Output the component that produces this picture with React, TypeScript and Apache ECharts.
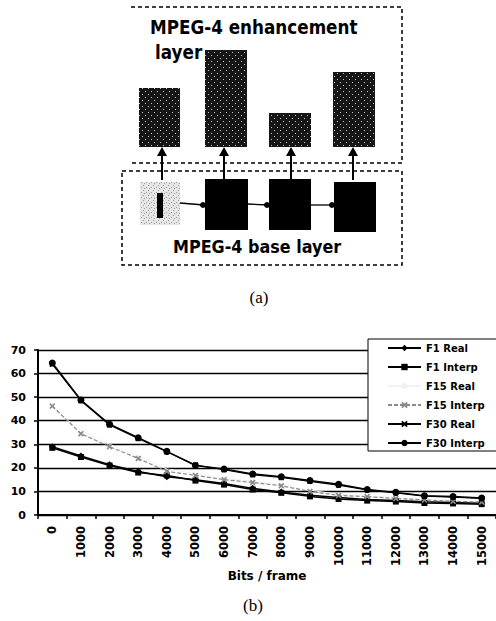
import React, { useEffect, useRef } from "react";
import * as echarts from "echarts";

const categories = ["0", "1000", "2000", "3000", "4000", "5000", "6000", "7000", "8000", "9000", "10000", "11000", "12000", "13000", "14000", "15000"];
const f1Real = [29, 25, 21.3, 18.5, 16.2, 15, 13.4, 11.3, 9.8, 8.4, 7.4, 6.6, 6.2, 5.6, 5.3, 5];
const f1Interp = [28.5, 24.6, 21, 18, 16.8, 14.6, 12.9, 10.8, 9.4, 7.9, 6.8, 6.1, 5.7, 5.1, 4.9, 4.6];
const f15Real = [45, 36, 30, 25, 19.5, 17.5, 15.5, 14.2, 12.8, 10.5, 8.8, 8, 7.3, 6.6, 6, 5.7];
const f15Interp = [46.2, 34.5, 29, 24, 18.5, 16.8, 15, 13.8, 12.4, 10, 8.3, 7.8, 7, 6.4, 5.8, 5.5];
const f30Real = [64, 48.5, 38.2, 32.5, 26.8, 21.2, 19.2, 17.1, 15.9, 14.3, 12.7, 10.6, 9.4, 8, 7.6, 7];
const f30Interp = [64.5, 48.8, 38.5, 32.8, 27, 21, 19.5, 17.4, 16.2, 14.6, 13, 10.8, 9.6, 8.2, 7.8, 7.2];
const seriesNames = ["F1 Real", "F1 Interp", "F15 Real", "F15 Interp", "F30 Real", "F30 Interp"];
const yMin = 0;
const yMax = 70;
const yStep = 10;

const CROSS = "path://M0,2L2,0L5,3L8,0L10,2L7,5L10,8L8,10L5,7L2,10L0,8L3,5Z";
const FONT = "DejaVu Sans";

function makePattern(bg: string, dot: string, size: number, dots: number[][]) {
  const c = document.createElement("canvas");
  c.width = size;
  c.height = size;
  const ctx = c.getContext("2d")!;
  ctx.fillStyle = bg;
  ctx.fillRect(0, 0, size, size);
  ctx.fillStyle = dot;
  dots.forEach(([x, y]) => ctx.fillRect(x, y, 1, 1));
  return { image: c, repeat: "repeat", imageWidth: size, imageHeight: size } as any;
}

export default function App() {
  const ref = useRef<HTMLDivElement>(null);
  useEffect(() => {
    if (!ref.current) return;
    const chart = echarts.init(ref.current, null, { renderer: "svg" });
    const darkPat = makePattern("#161616", "#c4c4c4", 6, [[1, 1], [4, 4]]);
    const lightPat = makePattern("#e6e6e6", "#9a9a9a", 5, [[1, 2], [3, 0], [4, 3]]);

    const enhBars = [
      { x: 139, y: 88, w: 41, h: 59 },
      { x: 205, y: 50, w: 42, h: 97 },
      { x: 269, y: 113, w: 42, h: 34 },
      { x: 333, y: 72, w: 42, h: 75 },
    ];
    const baseBoxes = [
      { x: 205, y: 179, w: 43, h: 51 },
      { x: 269, y: 179, w: 42, h: 51 },
      { x: 334, y: 182, w: 42, h: 50 },
    ];
    const arrowXs = [162, 224, 291, 353];
    const graphic: any[] = [];
    graphic.push({
      type: "polyline",
      shape: { points: [[131, 7], [402, 7], [402, 163], [131, 163]] },
      style: { fill: "none", stroke: "#000", lineWidth: 1.5, lineDash: [4, 3] },
    });
    graphic.push({
      type: "rect",
      shape: { x: 122, y: 171, width: 280, height: 94 },
      style: { fill: "none", stroke: "#000", lineWidth: 1.5, lineDash: [4, 3] },
    });
    enhBars.forEach((b) =>
      graphic.push({ type: "rect", shape: { x: b.x, y: b.y, width: b.w, height: b.h }, style: { fill: darkPat } })
    );
    graphic.push({ type: "rect", shape: { x: 140, y: 182, width: 40, height: 43 }, style: { fill: lightPat } });
    graphic.push({ type: "rect", shape: { x: 157, y: 193, width: 6, height: 25 }, style: { fill: "#000" } });
    baseBoxes.forEach((b) =>
      graphic.push({ type: "rect", shape: { x: b.x, y: b.y, width: b.w, height: b.h }, style: { fill: "#000" } })
    );
    arrowXs.forEach((ax) => {
      graphic.push({ type: "line", shape: { x1: ax, y1: 180, x2: ax, y2: 152 }, style: { stroke: "#000", lineWidth: 2 } });
      graphic.push({ type: "polygon", shape: { points: [[ax, 147], [ax - 5, 156], [ax + 5, 156]] }, style: { fill: "#000" } });
    });
    const hArrows = [
      [180, 203, 204, 205],
      [248, 204, 268, 205],
      [311, 205, 333, 205],
    ];
    hArrows.forEach(([x1, y1, x2, y2]) => {
      graphic.push({ type: "line", shape: { x1, y1, x2, y2 }, style: { stroke: "#000", lineWidth: 1.3 } });
      graphic.push({ type: "circle", shape: { cx: x2 - 1, cy: y2, r: 3 }, style: { fill: "#000" } });
    });
    graphic.push({
      type: "text", x: 150, y: 27, scaleX: 0.84,
      style: { text: "MPEG-4 enhancement", font: `bold 20px "${FONT}"`, fill: "#000", verticalAlign: "middle" },
    });
    graphic.push({
      type: "text", x: 155, y: 52, scaleX: 0.84,
      style: { text: "layer", font: `bold 20px "${FONT}"`, fill: "#000", verticalAlign: "middle" },
    });
    graphic.push({
      type: "text", x: 173, y: 247, scaleX: 0.89,
      style: { text: "MPEG-4 base layer", font: `bold 18px "${FONT}"`, fill: "#000", verticalAlign: "middle" },
    });
    graphic.push({
      type: "text", x: 259, y: 297,
      style: { text: "(a)", font: `17px "Liberation Serif"`, fill: "#000", align: "center", verticalAlign: "middle" },
    });
    graphic.push({
      type: "text", x: 253, y: 605,
      style: { text: "(b)", font: `17px "Liberation Serif"`, fill: "#000", align: "center", verticalAlign: "middle" },
    });

    const dataSets = [f1Real, f1Interp, f15Real, f15Interp, f30Real, f30Interp];
    const styles = [
      { symbol: "diamond", size: 7, color: "#000", dash: "solid", width: 1.5 },
      { symbol: "rect", size: 6, color: "#000", dash: "solid", width: 1.5 },
      { symbol: "none", size: 0, color: "#f2f2f2", dash: "solid", width: 1 },
      { symbol: CROSS, size: 6, color: "#8a8a8a", dash: [4, 2], width: 1.2 },
      { symbol: CROSS, size: 6, color: "#000", dash: "solid", width: 1.2 },
      { symbol: "circle", size: 7, color: "#000", dash: "solid", width: 1.5 },
    ];
    const series = dataSets.map((d, i) => ({
      name: seriesNames[i],
      type: "line",
      data: d,
      symbol: styles[i].symbol,
      symbolSize: styles[i].size,
      showSymbol: styles[i].symbol !== "none",
      itemStyle: { color: styles[i].color },
      lineStyle: { color: styles[i].color, width: styles[i].width, type: styles[i].dash },
      z: i === 2 ? 1 : 3,
    }));

    chart.setOption({
      animation: false,
      graphic,
      grid: { left: 38, right: 0, top: 350, bottom: 106 },
      legend: {
        orient: "vertical",
        left: 368,
        top: 339,
        data: seriesNames,
        itemWidth: 33,
        itemHeight: 8,
        itemGap: 9,
        padding: [4, 14, 3, 19],
        backgroundColor: "#fff",
        borderColor: "#000",
        borderWidth: 1,
        borderRadius: 0,
        textStyle: { fontFamily: FONT, fontWeight: "bold", fontSize: 10, color: "#000" },
        z: 10,
      },
      xAxis: {
        type: "category",
        data: categories,
        boundaryGap: true,
        name: "Bits / frame",
        nameLocation: "middle",
        nameGap: 53,
        nameTextStyle: { fontFamily: FONT, fontWeight: "bold", fontSize: 12, color: "#000" },
        axisLine: { lineStyle: { color: "#000", width: 2 } },
        axisTick: { show: true, length: 4, lineStyle: { color: "#000", width: 1.5 } },
        axisLabel: { rotate: 90, interval: 0, margin: 11, fontFamily: FONT, fontWeight: "bold", fontSize: 11.5, color: "#000" },
        splitLine: { show: false },
      },
      yAxis: {
        type: "value",
        min: yMin,
        max: yMax,
        interval: yStep,
        axisLine: { show: true, lineStyle: { color: "#000", width: 2 } },
        axisTick: { show: true, length: 4, lineStyle: { color: "#000", width: 1.5 } },
        axisLabel: { margin: 12, fontFamily: FONT, fontWeight: "bold", fontSize: 11, color: "#000" },
        splitLine: { show: true, lineStyle: { color: "#000", width: 1.3 } },
      },
      series,
    });
    return () => chart.dispose();
  }, []);
  return <div ref={ref} style={{ position: "absolute", left: 0, top: 0, width: 496, height: 621, background: "#fff" }} />;
}
